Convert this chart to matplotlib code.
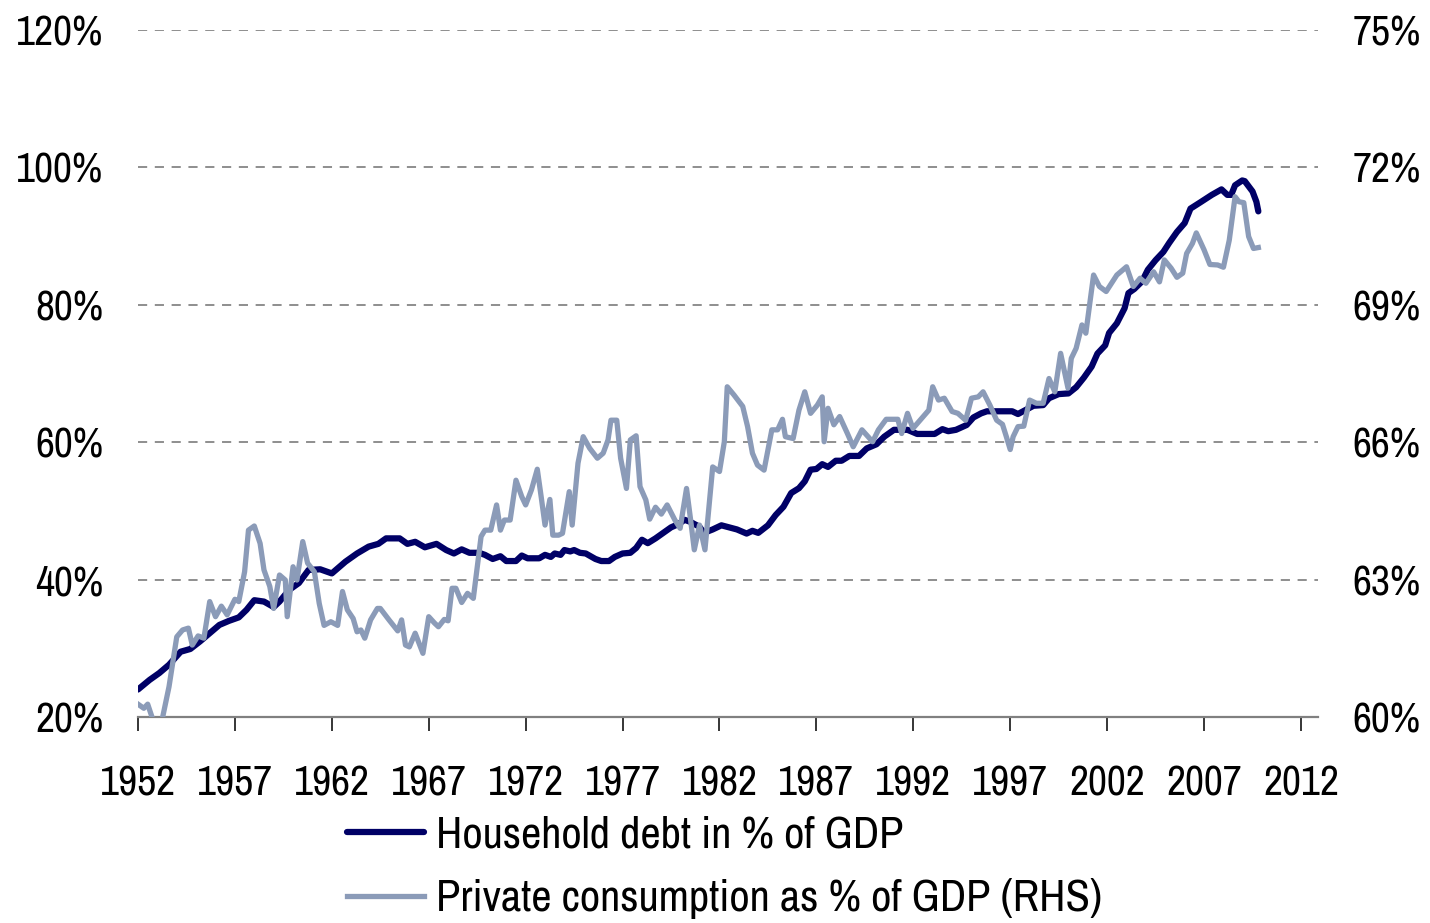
import matplotlib
matplotlib.use("Agg")
import matplotlib.pyplot as plt
from matplotlib.ticker import FuncFormatter

plt.rcParams['font.family'] = ['Nimbus Sans Narrow', 'Archivo Narrow', 'DejaVu Sans']

# Household debt in % of GDP (left axis)
debt_years = [1952.0, 1952.6, 1953.1, 1953.6, 1954.2, 1954.7, 1955.2, 1955.7, 1956.2, 1956.7,
              1957.2, 1957.6, 1958.0, 1958.5, 1959.0, 1959.3, 1959.8, 1960.3, 1960.8, 1961.4,
              1962.0, 1962.7, 1963.3, 1963.9, 1964.4, 1964.8, 1965.5, 1965.9, 1966.3, 1966.8,
              1967.4, 1967.9, 1968.3, 1968.7, 1969.1, 1969.6, 1969.9, 1970.3, 1970.7, 1971.0,
              1971.5, 1971.8, 1972.1, 1972.7, 1973.0, 1973.3, 1973.5, 1973.8, 1974.0, 1974.3,
              1974.5, 1974.8, 1975.1, 1975.6, 1975.9, 1976.3, 1976.6, 1977.0, 1977.4, 1977.7,
              1978.0, 1978.3, 1978.7, 1979.1, 1979.5, 1979.9, 1980.2, 1980.5, 1980.96, 1981.2,
              1981.65, 1982.1, 1982.5, 1982.9, 1983.4, 1983.7, 1984.0, 1984.5, 1984.9, 1985.3,
              1985.7, 1986.1, 1986.4, 1986.7, 1987.0, 1987.3, 1987.6, 1988.0, 1988.3, 1988.7,
              1989.2, 1989.6, 1990.1, 1990.5, 1991.0, 1991.7, 1992.2, 1993.1, 1993.5, 1993.8,
              1994.2, 1994.75, 1995.1, 1995.5, 1995.8, 1996.5, 1997.1, 1997.4, 1997.8, 1998.2,
              1998.7, 1999.0, 1999.5, 2000.0, 2000.4, 2000.8, 2001.2, 2001.5, 2001.9, 2002.1,
              2002.5, 2002.9, 2003.1, 2003.4, 2003.8, 2004.1, 2004.5, 2004.9, 2005.2, 2005.6,
              2006.0, 2006.3, 2006.8, 2007.4, 2007.9, 2008.2, 2008.4, 2008.6, 2008.97, 2009.1,
              2009.5, 2009.7, 2009.8]
debt_vals = [24.0, 25.4, 26.4, 27.6, 29.5, 29.9, 31.0, 32.2, 33.4, 34.0,
             34.5, 35.6, 37.0, 36.8, 36.0, 36.8, 38.5, 39.5, 41.4, 41.5,
             40.9, 42.6, 43.8, 44.8, 45.2, 46.0, 46.0, 45.2, 45.5, 44.7,
             45.2, 44.3, 43.8, 44.4, 43.9, 43.9, 43.6, 43.0, 43.4, 42.7,
             42.7, 43.5, 43.1, 43.1, 43.6, 43.3, 43.8, 43.6, 44.3, 44.1,
             44.3, 43.9, 43.8, 43.0, 42.7, 42.7, 43.3, 43.8, 43.9, 44.6,
             45.8, 45.3, 46.0, 46.8, 47.6, 48.1, 48.7, 48.4, 47.7, 46.8,
             47.3, 47.9, 47.6, 47.3, 46.7, 47.1, 46.8, 47.9, 49.4, 50.6,
             52.6, 53.3, 54.3, 56.0, 56.1, 56.8, 56.4, 57.3, 57.3, 58.0,
             58.0, 59.1, 59.7, 60.8, 61.8, 61.8, 61.2, 61.2, 61.9, 61.6,
             61.8, 62.5, 63.6, 64.2, 64.5, 64.5, 64.5, 64.1, 64.7, 65.3,
             65.4, 66.4, 67.0, 67.1, 68.0, 69.4, 71.0, 72.9, 74.1, 75.9,
             77.3, 79.5, 81.7, 82.3, 83.4, 85.1, 86.5, 87.7, 89.0, 90.6,
             91.9, 94.0, 94.9, 96.0, 96.8, 96.0, 96.0, 97.4, 98.1, 98.0,
             96.5, 95.0, 93.6]

# Private consumption as % of GDP (right axis)
cons_years = [1952.0, 1952.3, 1952.5, 1952.8, 1953.2, 1953.6, 1954.0, 1954.3, 1954.6, 1954.8,
              1955.1, 1955.4, 1955.7, 1956.0, 1956.3, 1956.6, 1957.0, 1957.2, 1957.5, 1957.7,
              1958.0, 1958.3, 1958.5, 1958.8, 1959.0, 1959.3, 1959.6, 1959.7, 1960.0, 1960.2,
              1960.5, 1960.75, 1961.1, 1961.35, 1961.6, 1961.95, 1962.3, 1962.55, 1962.8, 1963.1,
              1963.3, 1963.5, 1963.7, 1964.0, 1964.35, 1964.5, 1964.95, 1965.4, 1965.6, 1965.8,
              1966.0, 1966.3, 1966.7, 1967.0, 1967.3, 1967.5, 1967.8, 1968.0, 1968.2, 1968.4,
              1968.7, 1969.0, 1969.3, 1969.7, 1969.9, 1970.2, 1970.5, 1970.7, 1970.9, 1971.2,
              1971.5, 1971.8, 1972.0, 1972.3, 1972.6, 1972.8, 1973.0, 1973.25, 1973.4, 1973.7,
              1973.9, 1974.25, 1974.4, 1974.7, 1974.97, 1975.3, 1975.7, 1976.0, 1976.25, 1976.4,
              1976.7, 1976.9, 1977.2, 1977.4, 1977.7, 1977.9, 1978.2, 1978.4, 1978.7, 1979.0,
              1979.3, 1979.7, 1979.97, 1980.3, 1980.5, 1980.7, 1980.97, 1981.25, 1981.65, 1982.0,
              1982.25, 1982.4, 1982.75, 1983.2, 1983.45, 1983.7, 1983.96, 1984.3, 1984.5, 1984.7,
              1985.0, 1985.25, 1985.4, 1985.8, 1986.1, 1986.4, 1986.7, 1987.05, 1987.3, 1987.4,
              1987.6, 1987.9, 1988.2, 1988.6, 1988.9, 1989.35, 1989.9, 1990.2, 1990.6, 1991.2,
              1991.4, 1991.7, 1991.98, 1992.35, 1992.8, 1993.0, 1993.3, 1993.6, 1994.0, 1994.3,
              1994.7, 1995.0, 1995.35, 1995.6, 1995.95, 1996.3, 1996.6, 1996.8, 1997.0, 1997.15,
              1997.4, 1997.7, 1998.0, 1998.35, 1998.7, 1999.0, 1999.3, 1999.6, 1999.98, 2000.15,
              2000.4, 2000.7, 2000.9, 2001.3, 2001.6, 2001.95, 2002.5, 2003.0, 2003.35, 2003.7,
              2004.0, 2004.4, 2004.7, 2004.95, 2005.3, 2005.6, 2005.9, 2006.1, 2006.4, 2006.6,
              2007.0, 2007.3, 2007.7, 2008.0, 2008.3, 2008.6, 2008.8, 2009.05, 2009.3, 2009.55,
              2009.8]
cons_vals = [60.28, 60.19, 60.28, 59.9, 59.85, 60.66, 61.75, 61.9, 61.94, 61.57,
             61.77, 61.72, 62.52, 62.19, 62.42, 62.23, 62.57, 62.52, 63.17, 64.08,
             64.17, 63.79, 63.21, 62.85, 62.37, 63.1, 62.99, 62.19, 63.28, 62.99,
             63.83, 63.36, 63.17, 62.48, 62.0, 62.08, 62.0, 62.74, 62.34, 62.15,
             61.86, 61.9, 61.72, 62.12, 62.37, 62.37, 62.12, 61.88, 62.12, 61.57,
             61.53, 61.83, 61.39, 62.19, 62.05, 61.97, 62.13, 62.1, 62.81, 62.81,
             62.5, 62.7, 62.59, 63.94, 64.08, 64.08, 64.63, 64.08, 64.3, 64.3,
             65.17, 64.81, 64.63, 64.96, 65.41, 64.81, 64.19, 64.75, 63.97, 63.97,
             64.01, 64.92, 64.19, 65.54, 66.12, 65.87, 65.65, 65.76, 66.05, 66.48,
             66.48, 65.65, 64.99, 66.05, 66.14, 65.03, 64.74, 64.32, 64.58, 64.43,
             64.63, 64.3, 64.12, 64.99, 64.34, 63.65, 64.19, 63.65, 65.46, 65.36,
             66.01, 67.21, 67.03, 66.78, 66.34, 65.76, 65.5, 65.39, 65.83, 66.27,
             66.27, 66.5, 66.12, 66.08, 66.7, 67.1, 66.63, 66.81, 66.99, 66.01,
             66.74, 66.38, 66.56, 66.19, 65.9, 66.27, 66.01, 66.27, 66.5, 66.5,
             66.19, 66.63, 66.3, 66.48, 66.7, 67.21, 66.92, 66.96, 66.67, 66.63,
             66.48, 66.96, 66.99, 67.1, 66.81, 66.48, 66.39, 66.12, 65.84, 66.12,
             66.34, 66.35, 66.92, 66.85, 66.85, 67.39, 67.1, 67.94, 67.18, 67.83,
             68.05, 68.56, 68.38, 69.65, 69.4, 69.29, 69.65, 69.83, 69.4, 69.58,
             69.47, 69.72, 69.5, 69.98, 69.8, 69.6, 69.69, 70.12, 70.34, 70.57,
             70.2, 69.88, 69.87, 69.82, 70.41, 71.36, 71.25, 71.23, 70.49, 70.23,
             70.25]

left_ticks = [20, 40, 60, 80, 100, 120]
right_ticks = [60, 63, 66, 69, 72, 75]
year_ticks = list(range(1952, 2013, 5))

dark = '#000066'
light = '#8B9BB8'
fs = 30

fig = plt.figure(figsize=(14.3, 9.23), dpi=100)
ax = fig.add_axes([0.0965, 0.2232, 0.8252, 0.7443])
ax2 = ax.twinx()

ax.set_xlim(1952, 2012.88)
ax.set_ylim(20, 120)
ax2.set_ylim(60, 75)

ax.set_yticks(left_ticks)
ax2.set_yticks(right_ticks)
ax.set_xticks(year_ticks)
ax.set_xticklabels([str(y) for y in year_ticks])

pct = FuncFormatter(lambda v, p: '%d%%' % v)
ax.yaxis.set_major_formatter(pct)
ax2.yaxis.set_major_formatter(pct)

for a in (ax, ax2):
    for s in ('top', 'left', 'right'):
        a.spines[s].set_visible(False)
ax2.spines['bottom'].set_visible(False)
ax.spines['bottom'].set_color('#808080')
ax.spines['bottom'].set_linewidth(1.6)

ax.tick_params(axis='y', length=0, pad=25, labelsize=fs)
ax2.tick_params(axis='y', length=0, pad=25, labelsize=fs)
ax.tick_params(axis='x', length=10, width=1.1, color='black', pad=24, labelsize=fs)

for v in left_ticks[1:]:
    ax.axhline(v, color='#707070', lw=1.1, dashes=(6, 5), zorder=0)

l1, = ax.plot(debt_years, debt_vals, color=dark, lw=4.5, solid_capstyle='round',
              solid_joinstyle='round', zorder=3)
l2, = ax2.plot(cons_years, cons_vals, color=light, lw=3.8, solid_joinstyle='round',
               zorder=2)

fig.legend([l1, l2], ['Household debt in % of GDP', 'Private consumption as % of GDP (RHS)'],
           loc='upper left', bbox_to_anchor=(0.243, 0.116), frameon=False, fontsize=32,
           handlelength=1.73, handletextpad=0.27, labelspacing=0.5, borderpad=0,
           borderaxespad=0)

fig.savefig('out.png', dpi=100)
